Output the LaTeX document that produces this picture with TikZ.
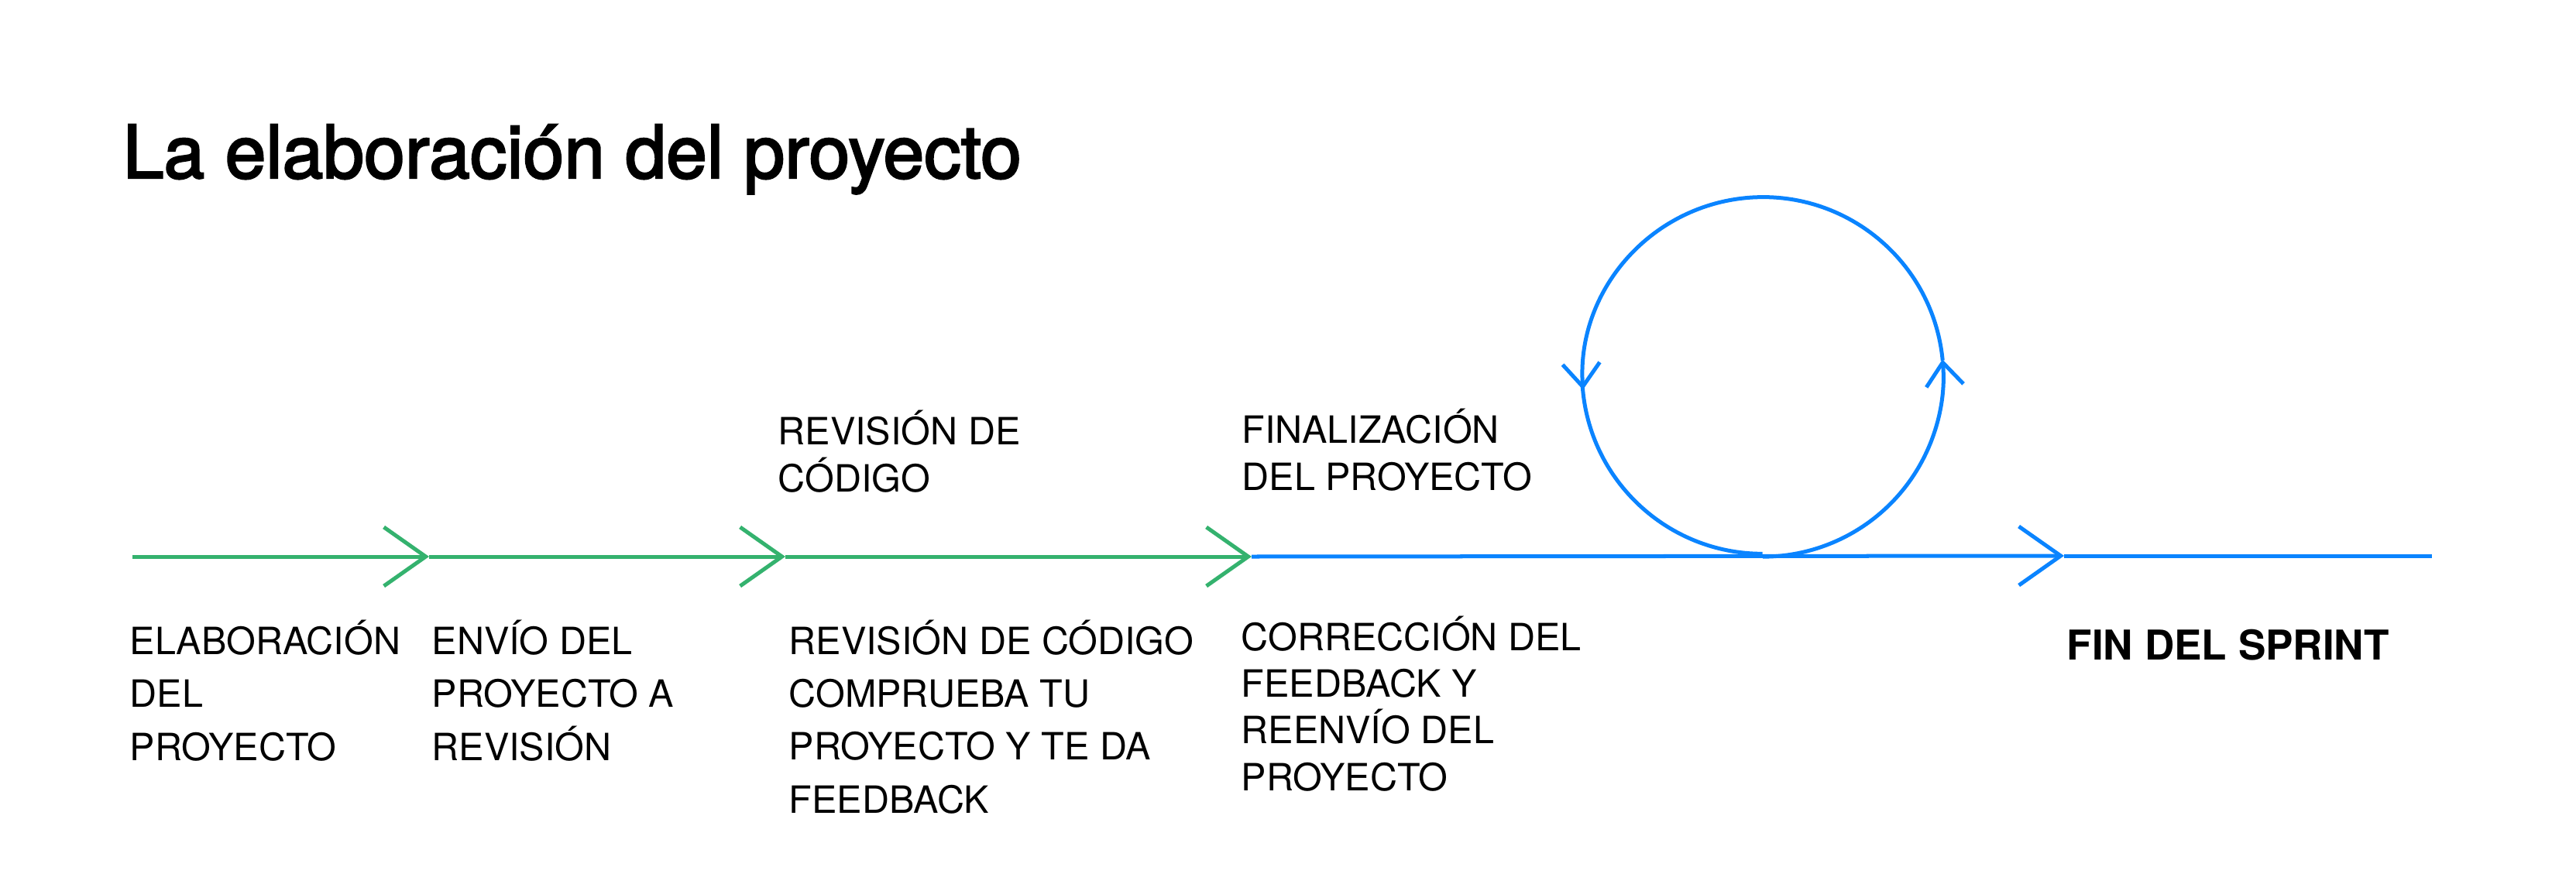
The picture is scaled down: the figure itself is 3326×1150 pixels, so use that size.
\documentclass[tikz,border=0pt]{standalone}
\usepackage{fontspec}
\setmainfont{TeX Gyre Heros}
\newfontfamily\titlefont{TeX Gyre Heros}[FakeBold=2.5]
\usetikzlibrary{arrows.meta}
\definecolor{sprintgreen}{RGB}{52,178,110}
\definecolor{sprintblue}{RGB}{10,132,255}
\tikzset{green line/.style={draw=sprintgreen,line width=0.5mm,-{Straight Barb[length=5.4mm,width=7.6mm]}}}
\tikzset{blue line/.style={draw=sprintblue,line width=0.5mm}}
\tikzset{blue arrow/.style={blue line,-{Straight Barb[length=5.4mm,width=7.6mm]}}}
\tikzset{loop arrow/.style={blue line,-{Straight Barb[length=3mm,width=4.8mm]}}}
\tikzset{stage node/.style={anchor=base west,inner sep=0pt,align=left,font=\fontsize{13.8}{19.4}\selectfont}}
\tikzset{note node/.style={stage node,font=\fontsize{13.8}{17.1}\selectfont}}

\begin{document}
\begin{tikzpicture}[x=0.01cm,y=0.01cm]
        \useasboundingbox[fill=white] (0,0) rectangle (3326,1150);

        \node[anchor=base west,inner sep=0pt,font=\titlefont\fontsize{27}{32}\selectfont] (title) at (158,920) {La elaboración del proyecto};

        % timeline points
        \coordinate (start) at (171,431);
        \coordinate (t1) at (554,431);
        \coordinate (t2) at (1014,431);
        \coordinate (t3) at (1616,431);
        \coordinate (t4) at (2665,432);
        \coordinate (stop) at (3140,432);
        \node[circle,minimum size=4.66cm,inner sep=0pt,outer sep=0pt] (loop) at (2276,664) {};

        \draw[green line] (start) -- (t1);
        \draw[green line] (t1) -- (t2);
        \draw[green line] (t2) -- (t3);
        \draw[blue arrow] (t3) -- (t4);
        \draw[blue line] (t4) -- (stop);

        % feedback loop
        \draw[loop arrow] (loop.270) arc[start angle=-90,end angle=5.4,radius=233];
        \draw[loop arrow] (loop.5.4) arc[start angle=5.4,end angle=183.9,radius=233];
        \draw[blue line] (loop.183.9) arc[start angle=183.9,end angle=270,radius=233];

        % labels, placed at the baseline of their last line
        \node[stage node] (elab) at (167,168) {ELABORACIÓN\\DEL\\PROYECTO};
        \node[stage node] (envio) at (557,168) {ENVÍO DEL\\PROYECTO A\\REVISIÓN};
        \node[stage node] (check) at (1018,100) {REVISIÓN DE CÓDIGO\\COMPRUEBA TU\\PROYECTO Y TE DA\\FEEDBACK};
        \node[note node] (fix) at (1602,129) {CORRECCIÓN DEL\\FEEDBACK Y\\REENVÍO DEL\\PROYECTO};
        \node[note node] (review) at (1004,515) {REVISIÓN DE\\CÓDIGO};
        \node[note node] (final) at (1603,517) {FINALIZACIÓN\\DEL PROYECTO};
        \node[stage node,font=\fontsize{15.1}{18}\selectfont\bfseries] (end) at (2668,298) {FIN DEL SPRINT};
\end{tikzpicture}
\end{document}
